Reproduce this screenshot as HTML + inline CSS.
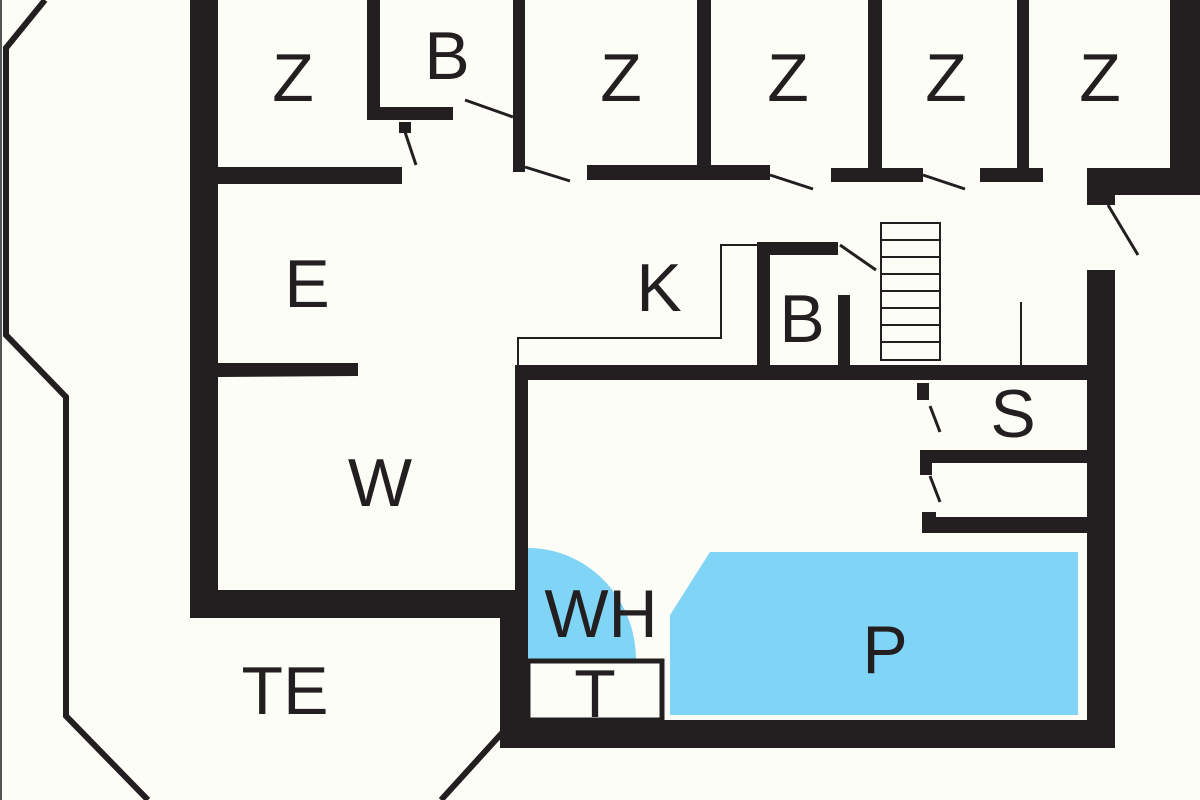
<!DOCTYPE html>
<html><head><meta charset="utf-8"><style>
html,body{margin:0;padding:0;background:#fdfdf8;}
svg{display:block}
text{font-family:"Liberation Sans",sans-serif;font-size:68px;fill:#231f20;text-anchor:middle}
</style></head><body>
<svg width="1200" height="800" viewBox="0 0 1200 800">
<rect width="1200" height="800" fill="#fdfdf8"/>
<line x1="1" y1="0" x2="1" y2="800" stroke="#555" stroke-width="2"/>
<polyline points="45,0 6,48 6,335 66,397 66,716 148,800" fill="none" stroke="#231f20" stroke-width="6"/>
<line x1="441" y1="800" x2="502" y2="733" stroke="#231f20" stroke-width="6"/>
<path d="M528,548 A108,112 0 0 1 636,660 L528,660 Z" fill="#80d4f6"/>
<polygon points="670,615 710,552 1078,552 1078,715 670,715" fill="#80d4f6"/>
<g fill="#231f20">
<rect x="190" y="0" width="28" height="618"/>
<rect x="190" y="590" width="325" height="28"/>
<rect x="218" y="167" width="184" height="17"/>
<polygon points="218,363 358,363 358,376 218,377"/>
<rect x="367" y="0" width="13" height="120"/>
<rect x="367" y="107" width="86" height="13"/>
<rect x="399" y="122" width="12" height="11"/>
<rect x="513" y="0" width="12" height="172"/>
<rect x="587" y="165" width="183" height="15"/>
<rect x="697" y="0" width="14" height="172"/>
<rect x="831" y="168" width="92" height="14"/>
<rect x="868" y="0" width="14" height="172"/>
<rect x="980" y="168" width="63" height="14"/>
<rect x="1017" y="0" width="12" height="172"/>
<rect x="1170" y="0" width="30" height="195"/>
<rect x="1087" y="168" width="113" height="27"/>
<rect x="1087" y="195" width="28" height="10"/>
<rect x="1087" y="270" width="28" height="478"/>
<rect x="500" y="720" width="615" height="28"/>
<rect x="515" y="365" width="572" height="15"/>
<rect x="515" y="365" width="13" height="355"/>
<rect x="500" y="610" width="28" height="138"/>
<rect x="757" y="242" width="13" height="126"/>
<rect x="757" y="242" width="81" height="13"/>
<rect x="838" y="295" width="12" height="73"/>
<rect x="917" y="383" width="12" height="17"/>
<rect x="920" y="450" width="167" height="13"/>
<rect x="920" y="450" width="12" height="25"/>
<rect x="922" y="517" width="165" height="16"/>
<rect x="922" y="512" width="14" height="21"/>
</g>
<g stroke="#231f20" fill="none">
<line x1="403" y1="126" x2="416" y2="165" stroke-width="3"/>
<line x1="465" y1="100" x2="513" y2="117" stroke-width="3"/>
<line x1="525" y1="167" x2="570" y2="181" stroke-width="3"/>
<line x1="770" y1="175" x2="813" y2="189" stroke-width="3"/>
<line x1="923" y1="175" x2="965" y2="189" stroke-width="3"/>
<line x1="1108" y1="205" x2="1138" y2="255" stroke-width="3"/>
<line x1="840" y1="245" x2="876" y2="270" stroke-width="3"/>
<line x1="930" y1="406" x2="940" y2="432" stroke-width="3"/>
<line x1="930" y1="476" x2="940" y2="502" stroke-width="3"/>
<polyline points="518,365 518,338 721,338 721,245 757,245" stroke-width="2"/>
<line x1="1021" y1="302" x2="1021" y2="365" stroke-width="2"/>
<rect x="881" y="223" width="59" height="137" stroke-width="2"/>
<path d="M881,240H940M881,257H940M881,274H940M881,291H940M881,308H940M881,325H940M881,342H940" stroke-width="2"/>
<rect x="528" y="661" width="134" height="59" stroke-width="5"/>
</g>
<text x="293" y="101">Z</text>
<text x="447" y="79">B</text>
<text x="621" y="101">Z</text>
<text x="788" y="101">Z</text>
<text x="946" y="101">Z</text>
<text x="1100" y="101">Z</text>
<text x="307" y="307">E</text>
<text x="659" y="311">K</text>
<text x="802" y="342">B</text>
<text x="380" y="506">W</text>
<text x="1013" y="437">S</text>
<text x="601" y="637">WH</text>
<text x="885" y="673">P</text>
<text x="595" y="717">T</text>
<text x="285" y="714">TE</text>
</svg>
</body></html>
